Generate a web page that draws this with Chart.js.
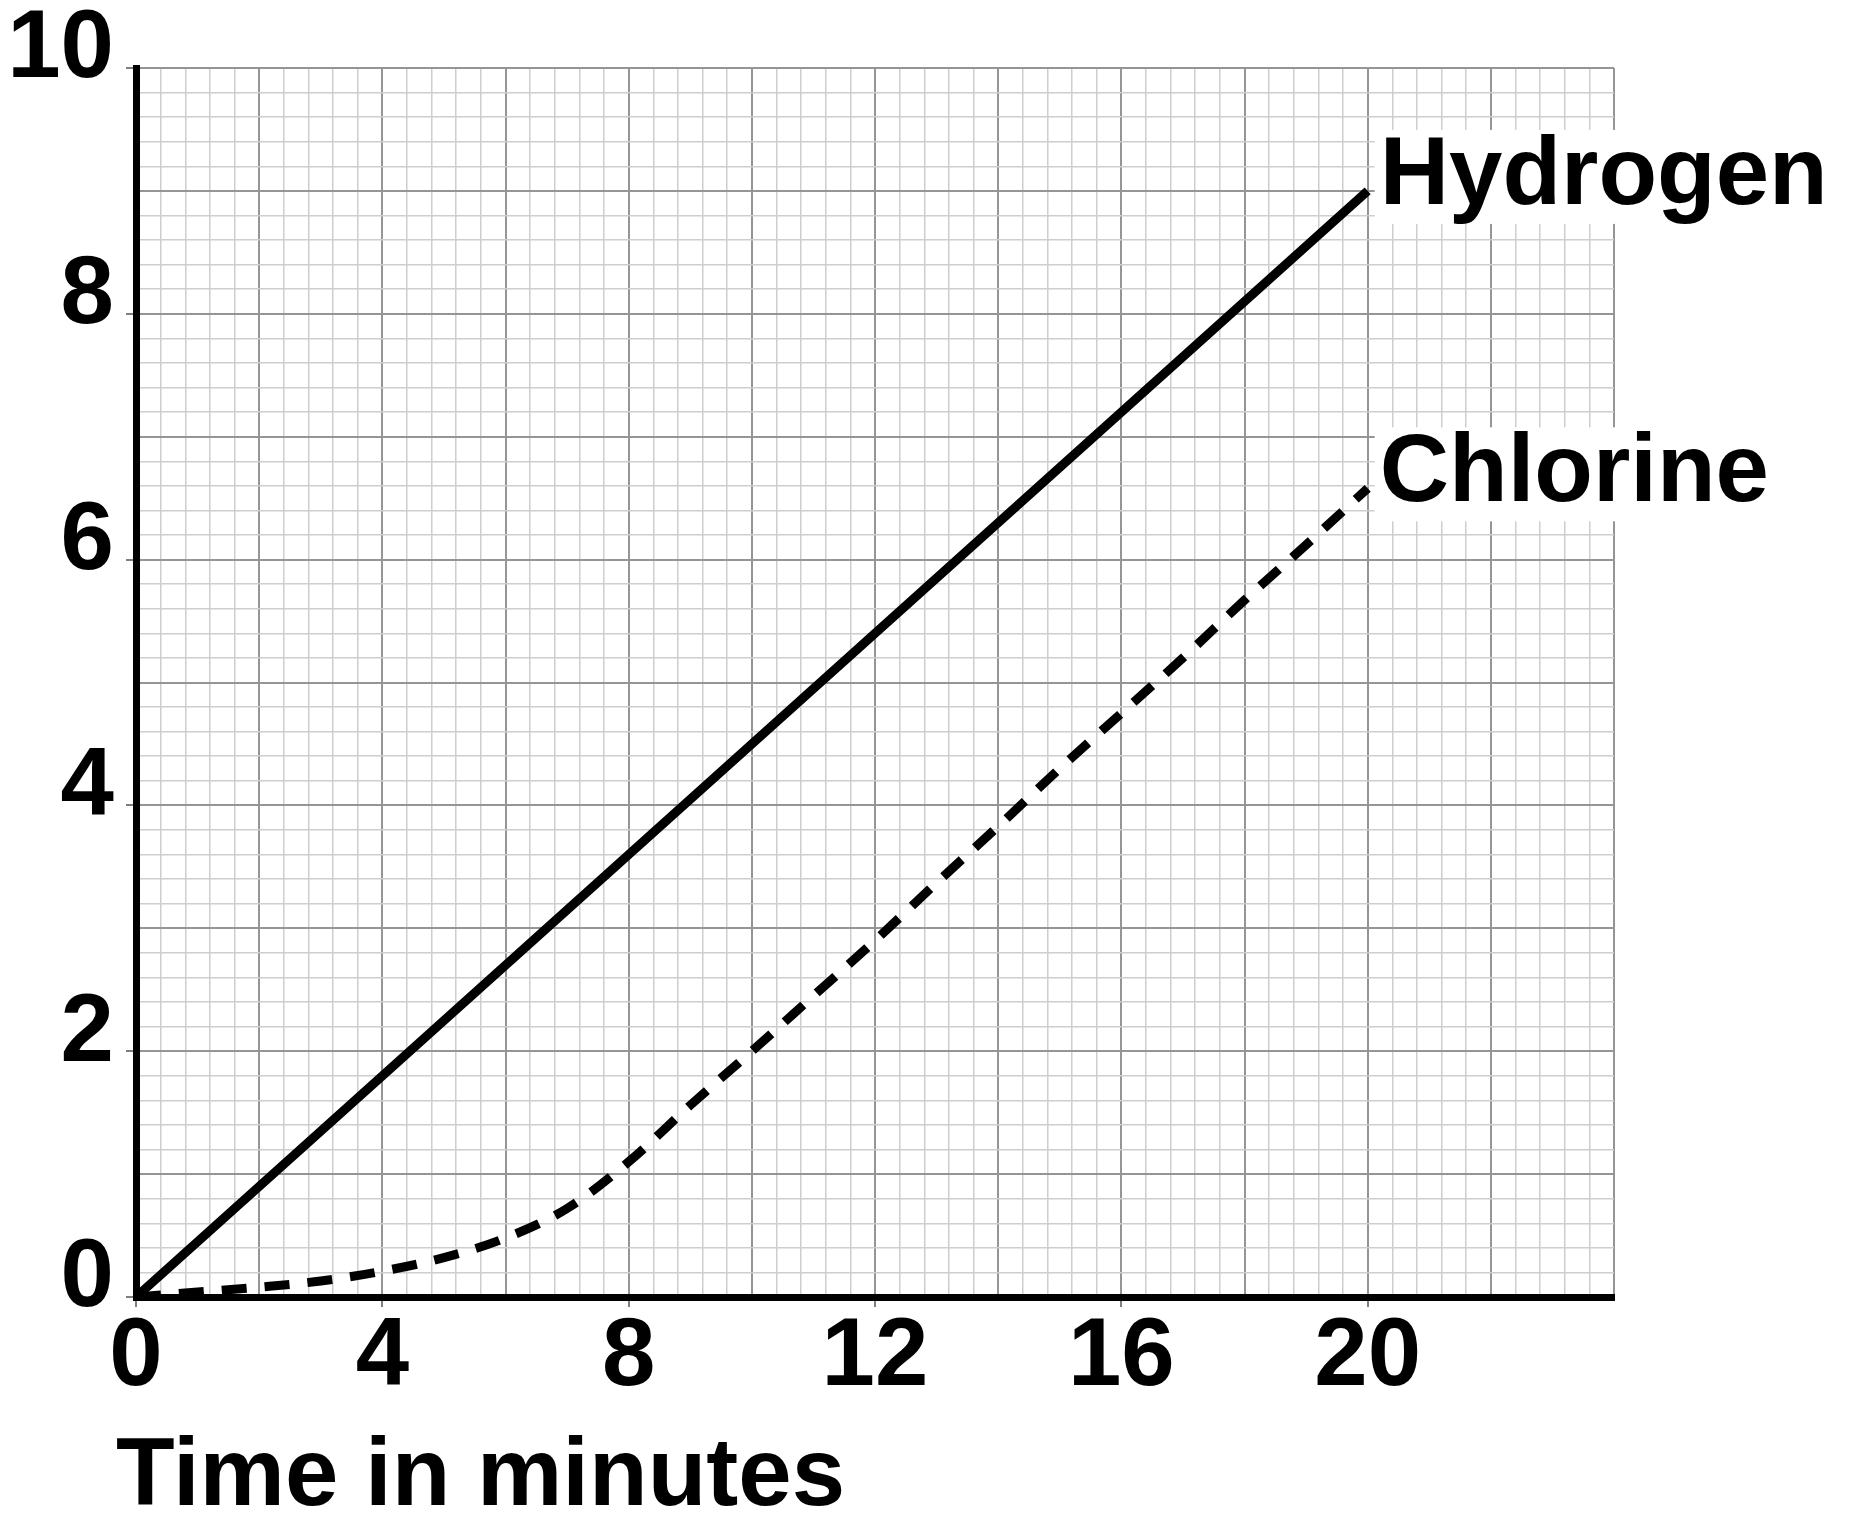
<!DOCTYPE html>
<html>
<head>
<meta charset="utf-8">
<script src="https://cdn.jsdelivr.net/npm/chart.js@4.4.1/dist/chart.umd.min.js"></script>
<style>
  html, body { margin: 0; padding: 0; background: #fff; }
</style>
</head>
<body>
<canvas id="gasChart" width="1850" height="1513"></canvas>
<script>
// data
const chlorineTimes = [0, 1, 2, 3, 4, 5, 6, 7, 8, 9, 10, 11, 12, 13, 14, 15, 16, 17, 18, 19, 20];
const chlorine = [0, 0.04, 0.08, 0.13, 0.21, 0.32, 0.48, 0.72, 1.1, 1.56, 2.0, 2.45, 2.9, 3.37, 3.83, 4.3, 4.75, 5.2, 5.67, 6.12, 6.58];
const hydrogenTimes = [0, 4, 8, 12, 16, 20];
const hydrogen = [0, 1.8, 3.6, 5.4, 7.2, 9.0];
const seriesNames = ['Hydrogen', 'Chlorine'];
const xTickLabels = [0, 4, 8, 12, 16, 20];
const yTickLabels = [0, 2, 4, 6, 8, 10];
const xAxisTitle = 'Time in minutes';

const FONT_FAMILY = '"Liberation Sans", Arial, sans-serif';
const MAJOR = '#959595';
const MINOR = '#cecece';

function isMultiple(v, m) {
  return Math.abs(v / m - Math.round(v / m)) < 1e-6;
}
function inList(v, list) {
  return list.some(l => Math.abs(l - v) < 1e-6);
}

// names at the end of each line (on a white patch over the grid) + the x axis title
const chartTexts = {
  id: 'chartTexts',
  afterDatasetsDraw(chart) {
    const ctx = chart.ctx;
    ctx.save();
    ctx.font = 'bold 96px ' + FONT_FAMILY;
    ctx.textAlign = 'left';
    ctx.textBaseline = 'alphabetic';
    chart.data.datasets.forEach((ds, i) => {
      const pts = chart.getDatasetMeta(i).data;
      const last = pts[pts.length - 1];
      const base = last.y + 13;
      const w = ctx.measureText(ds.label).width;
      ctx.fillStyle = '#fff';
      ctx.fillRect(last.x + 7, base - 74, w + 30, 94);
      ctx.fillStyle = '#000';
      ctx.fillText(ds.label, last.x + 12, base);
    });
    // axis title sits a little left of the y axis, as in the original
    const xs = chart.scales.x;
    ctx.fillStyle = '#000';
    ctx.fillText(xAxisTitle, xs.left - 20, xs.bottom - 8);
    ctx.restore();
  }
};

const tickFont = { family: FONT_FAMILY, size: 96, weight: 'bold', lineHeight: 1 };

new Chart(document.getElementById('gasChart'), {
  type: 'line',
  data: {
    datasets: [
      {
        label: seriesNames[0],
        data: hydrogenTimes.map((t, i) => ({ x: t, y: hydrogen[i] })),
        borderColor: '#000',
        borderWidth: 9,
        pointRadius: 0,
        tension: 0,
        fill: false
      },
      {
        label: seriesNames[1],
        data: chlorineTimes.map((t, i) => ({ x: t, y: chlorine[i] })),
        borderColor: '#000',
        borderWidth: 9,
        borderDash: [25, 18],
        borderCapStyle: 'butt',
        cubicInterpolationMode: 'monotone',
        pointRadius: 0,
        fill: false
      }
    ]
  },
  options: {
    responsive: false,
    devicePixelRatio: 1,
    animation: false,
    layout: { padding: { top: 68, right: 236, bottom: 0, left: 0 } },
    plugins: {
      legend: { display: false },
      tooltip: { enabled: false }
    },
    scales: {
      x: {
        type: 'linear',
        min: 0,
        max: 24,
        afterFit(scale) { scale.height = 216; },
        border: { display: true, color: '#000', width: 7 },
        grid: {
          color: c => (c.tick && isMultiple(c.tick.value, 2) ? MAJOR : MINOR),
          lineWidth: c => (c.tick && isMultiple(c.tick.value, 2) ? 2 : 1.5),
          tickColor: c => (c.tick && inList(c.tick.value, xTickLabels) ? '#555' : 'rgba(0,0,0,0)'),
          tickLength: 10,
          tickWidth: 1.5
        },
        ticks: {
          stepSize: 0.4,
          autoSkip: false,
          maxRotation: 0,
          padding: 4,
          color: '#000',
          font: tickFont,
          callback: v => (inList(v, xTickLabels) ? String(Math.round(v)) : '')
        }
      },
      y: {
        type: 'linear',
        min: 0,
        max: 10,
        afterFit(scale) { scale.width = 136; },
        border: { display: true, color: '#000', width: 7 },
        grid: {
          color: c => (c.tick && isMultiple(c.tick.value, 1) ? MAJOR : MINOR),
          lineWidth: c => (c.tick && isMultiple(c.tick.value, 1) ? 2 : 1.5),
          tickColor: c => (c.tick && inList(c.tick.value, yTickLabels) ? '#555' : 'rgba(0,0,0,0)'),
          tickLength: 10,
          tickWidth: 1.5
        },
        ticks: {
          stepSize: 0.2,
          autoSkip: false,
          padding: 12,
          labelOffset: -17,
          color: '#000',
          font: tickFont,
          callback: v => (inList(v, yTickLabels) ? String(Math.round(v)) : '')
        }
      }
    }
  },
  plugins: [chartTexts]
});
</script>
</body>
</html>
